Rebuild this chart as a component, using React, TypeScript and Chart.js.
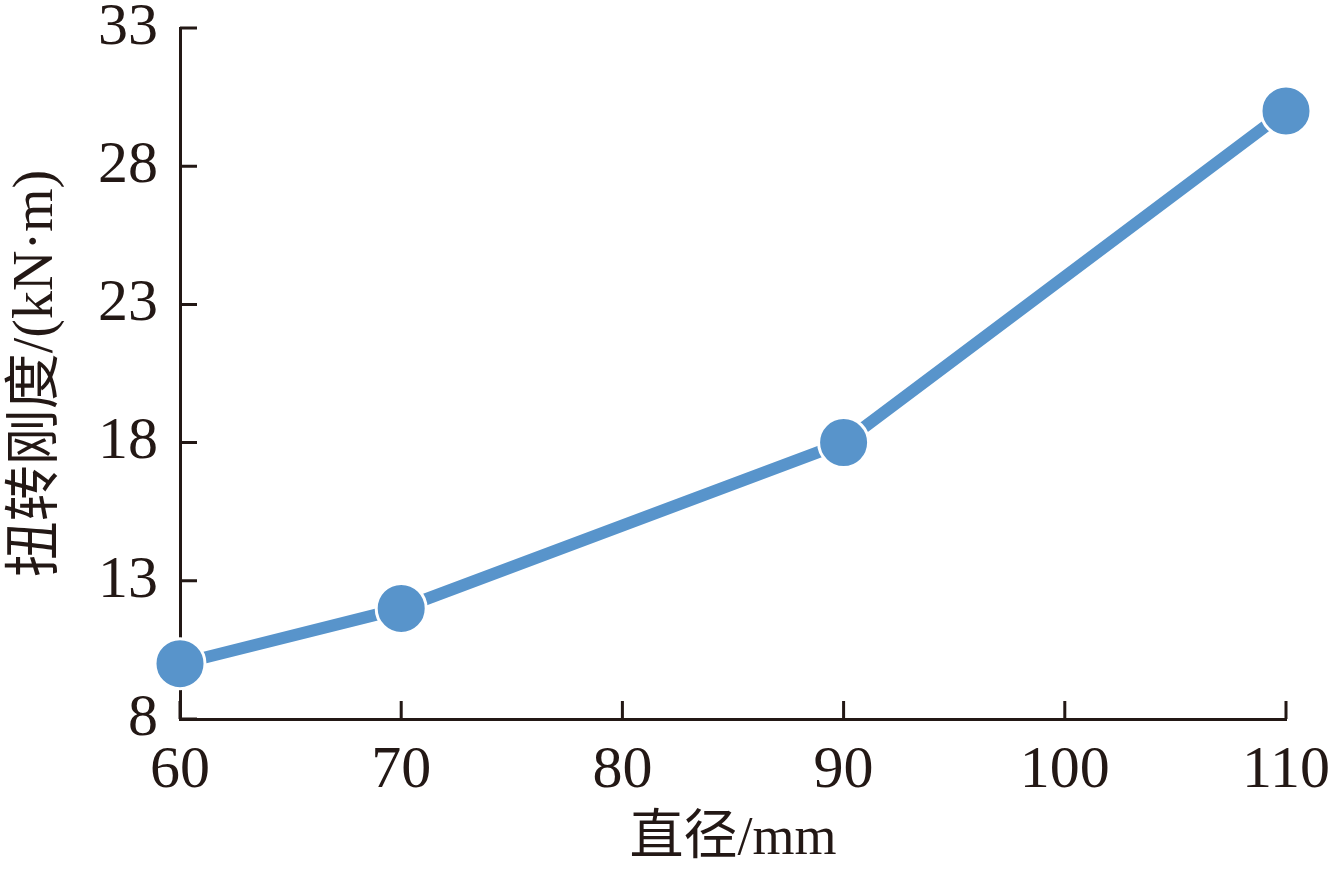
import React, { useEffect, useRef } from "react";
import { Chart, registerables } from "chart.js";

Chart.register(...registerables);

const diameters = [60, 70, 90, 110];
const stiffness = [10, 12, 18, 30];
const xTickValues = [60, 70, 80, 90, 100, 110];
const yTickValues = [8, 13, 18, 23, 28, 33];
const xTitle = "直径/mm";
const yTitle = "扭转刚度/(kN·m)";

const INK = "#231815";
const BLUE = "#5894CB";
const FONT = "'Liberation Serif', 'Times New Roman', 'Noto Sans CJK SC', serif";

const inwardTicks = {
  id: "inwardTicks",
  afterDraw(chart: any) {
    const ctx = chart.ctx;
    const xs = chart.scales.x;
    const ys = chart.scales.y;
    const area = chart.chartArea;
    ctx.save();
    ctx.strokeStyle = INK;
    ctx.lineWidth = 3;
    ctx.beginPath();
    xTickValues.forEach((v) => {
      const px = xs.getPixelForValue(v);
      ctx.moveTo(px, area.bottom);
      ctx.lineTo(px, area.bottom - 18);
    });
    yTickValues.forEach((v) => {
      const py = ys.getPixelForValue(v);
      ctx.moveTo(area.left, py);
      ctx.lineTo(area.left + 17, py);
    });
    ctx.stroke();
    ctx.restore();
  },
};

export default function App() {
  const ref = useRef<HTMLCanvasElement>(null);
  useEffect(() => {
    document.body.style.margin = "0";
    const chart = new Chart(ref.current!, {
      type: "line",
      data: {
        datasets: [
          {
            data: diameters.map((d, i) => ({ x: d, y: stiffness[i] })),
            borderColor: BLUE,
            borderWidth: 12,
            backgroundColor: BLUE,
            pointBackgroundColor: BLUE,
            pointBorderColor: "#ffffff",
            pointBorderWidth: 3,
            pointRadius: 25,
            tension: 0,
            clip: false as any,
          },
        ],
      },
      options: {
        responsive: false,
        animation: false,
        layout: { padding: { top: 25, right: 46, left: 0, bottom: 0 } },
        plugins: { legend: { display: false }, tooltip: { enabled: false } },
        scales: {
          x: {
            type: "linear",
            min: 60,
            max: 110,
            afterBuildTicks: (s: any) => {
              s.ticks = xTickValues.map((v) => ({ value: v }));
            },
            afterFit: (s: any) => {
              s.height = 153;
              s.paddingLeft = 0;
              s.paddingRight = 0;
            },
            grid: { display: false },
            border: { display: true, color: INK, width: 3 },
            ticks: {
              color: INK,
              font: { family: FONT, size: 60 },
              padding: 8,
              maxRotation: 0,
            },
            title: {
              display: true,
              text: xTitle,
              color: INK,
              font: { family: FONT, size: 54 },
              padding: { top: 0, bottom: 0 },
            },
          },
          y: {
            type: "linear",
            min: 8,
            max: 33,
            afterBuildTicks: (s: any) => {
              s.ticks = yTickValues.map((v) => ({ value: v }));
            },
            afterFit: (s: any) => {
              s.width = 180;
              s.paddingTop = 0;
              s.paddingBottom = 0;
            },
            grid: { display: false },
            border: { display: true, color: INK, width: 3 },
            ticks: {
              color: INK,
              font: { family: FONT, size: 60 },
              padding: 14,
            },
            title: {
              display: true,
              text: yTitle,
              color: INK,
              font: { family: FONT, size: 56 },
              padding: { top: 4, bottom: 0 },
            },
          },
        },
      },
      plugins: [inwardTicks],
    });
    return () => chart.destroy();
  }, []);
  return (
    <div style={{ position: "absolute", left: 0, top: 0, width: 1332, height: 872, background: "#fff" }}>
      <canvas ref={ref} width={1332} height={872} />
    </div>
  );
}
